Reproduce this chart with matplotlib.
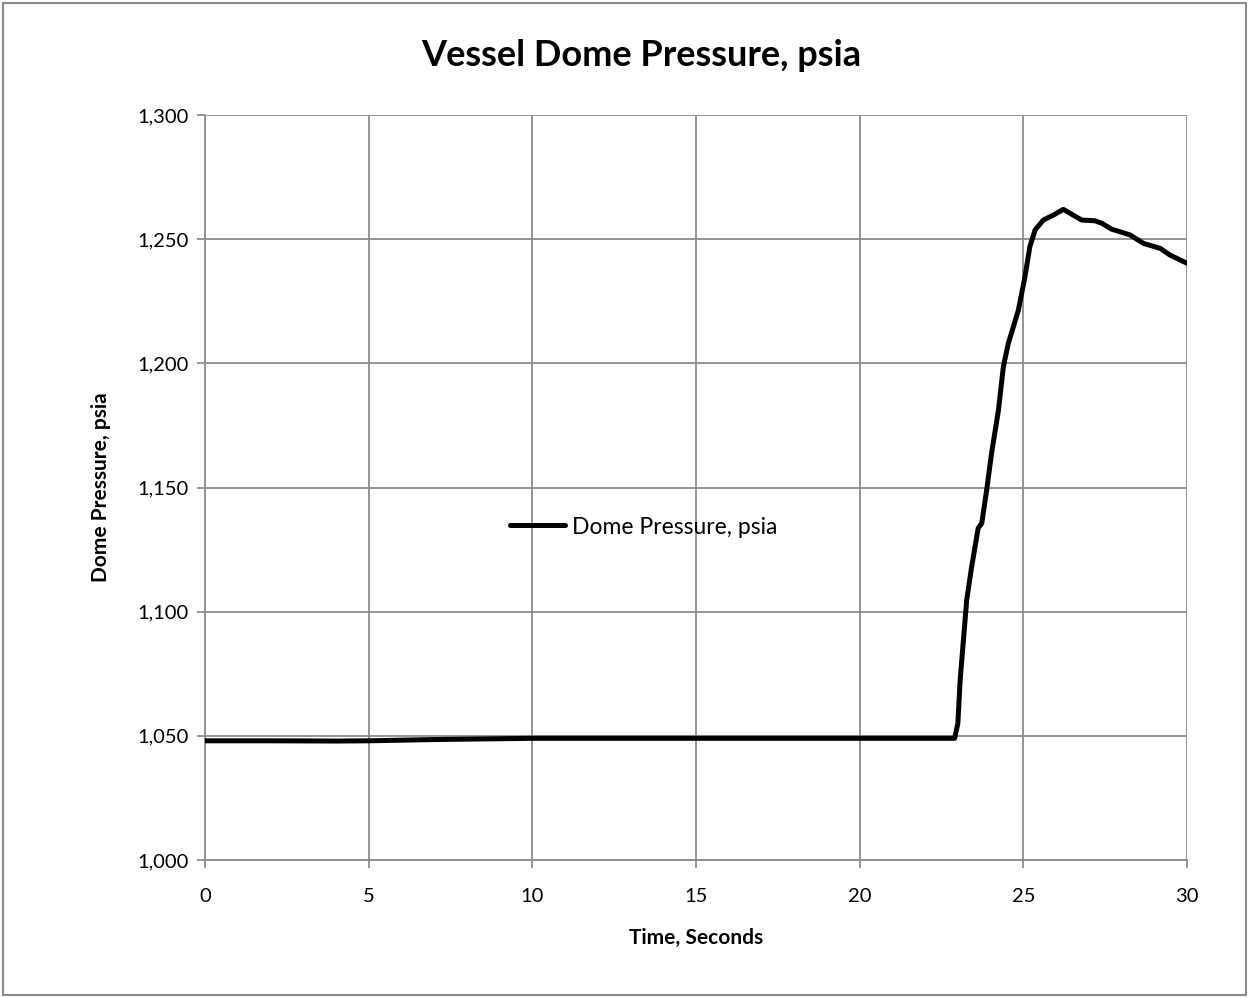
import matplotlib
matplotlib.use("Agg")
import matplotlib.pyplot as plt
from matplotlib.ticker import FuncFormatter, MultipleLocator
from matplotlib.patches import Rectangle

# Data
time_s = [0.0, 2.0, 4.0, 5.0, 7.0, 10.0, 15.0, 20.0, 22.9, 23.0, 23.07, 23.17, 23.27,
          23.42, 23.62, 23.73, 23.88, 24.03, 24.24, 24.39, 24.54, 24.85, 25.05,
          25.2, 25.36, 25.61, 25.92, 26.22, 26.43, 26.78, 27.19, 27.4, 27.7,
          28.0, 28.26, 28.67, 29.18, 29.48, 29.97, 30.0]
pressure_psia = [1048.0, 1048.0, 1047.9, 1048.0, 1048.5, 1049.0, 1049.0, 1049.0,
                 1049.0, 1055.0, 1072.5, 1088.6, 1104.7, 1118.0, 1133.6, 1135.6, 1149.0,
                 1163.8, 1181.2, 1198.6, 1208.0, 1221.5, 1234.9, 1247.0, 1253.7,
                 1257.7, 1259.7, 1262.0, 1260.4, 1257.7, 1257.4, 1256.4, 1254.0,
                 1252.8, 1251.7, 1248.3, 1246.3, 1243.6, 1240.5, 1240.3]

title = "Vessel Dome Pressure, psia"
xlabel = "Time, Seconds"
ylabel = "Dome Pressure, psia"
series_label = "Dome Pressure, psia"

plt.rcParams['font.family'] = ['Lato', 'DejaVu Sans']

fig = plt.figure(figsize=(12.49, 9.98), dpi=100)
ax = fig.add_axes([205/1249, 1 - 860/998, (1187-205)/1249, (860-115)/998])

ax.plot(time_s, pressure_psia, color='black', linewidth=3.6, label=series_label,
        solid_capstyle='round', solid_joinstyle='round', zorder=3)

ax.set_xlim(0, 30)
ax.set_ylim(1000, 1300)
ax.xaxis.set_major_locator(MultipleLocator(5))
ax.yaxis.set_major_locator(MultipleLocator(50))
ax.yaxis.set_major_formatter(FuncFormatter(lambda v, p: f"{v:,.0f}"))

grid_color = '#8c8c8c'
ax.grid(True, color=grid_color, linewidth=1.3, zorder=1)
for s in ['top', 'right']:
    ax.spines[s].set_visible(False)
for s in ['left', 'bottom']:
    ax.spines[s].set_color(grid_color)
    ax.spines[s].set_linewidth(1.3)
ax.tick_params(axis='both', direction='out', length=6, width=1.3, color=grid_color,
               labelsize=14.5, labelcolor='black')
ax.tick_params(axis='x', pad=14)
ax.tick_params(axis='y', pad=6)

ax.set_xlabel(xlabel, fontsize=15, fontweight='bold', labelpad=17)
ax.set_ylabel(ylabel, fontsize=15, fontweight='bold', labelpad=19)
fig.text(641/1249, 1 - 55/998, title, fontsize=26, fontweight='bold',
         ha='center', va='center')

ax.legend(loc='center left', bbox_to_anchor=((510-205)/982, (860-527)/745),
          frameon=False, fontsize=16.5, handlelength=2.4, handletextpad=0.3,
          borderpad=0, borderaxespad=0)

fig.patches.append(Rectangle((3/1249, 3/998), 1 - 6/1249, 1 - 6/998,
                             transform=fig.transFigure, fill=False,
                             edgecolor='#8a8a8a', linewidth=1.5))

fig.savefig('out.png', dpi=100)
